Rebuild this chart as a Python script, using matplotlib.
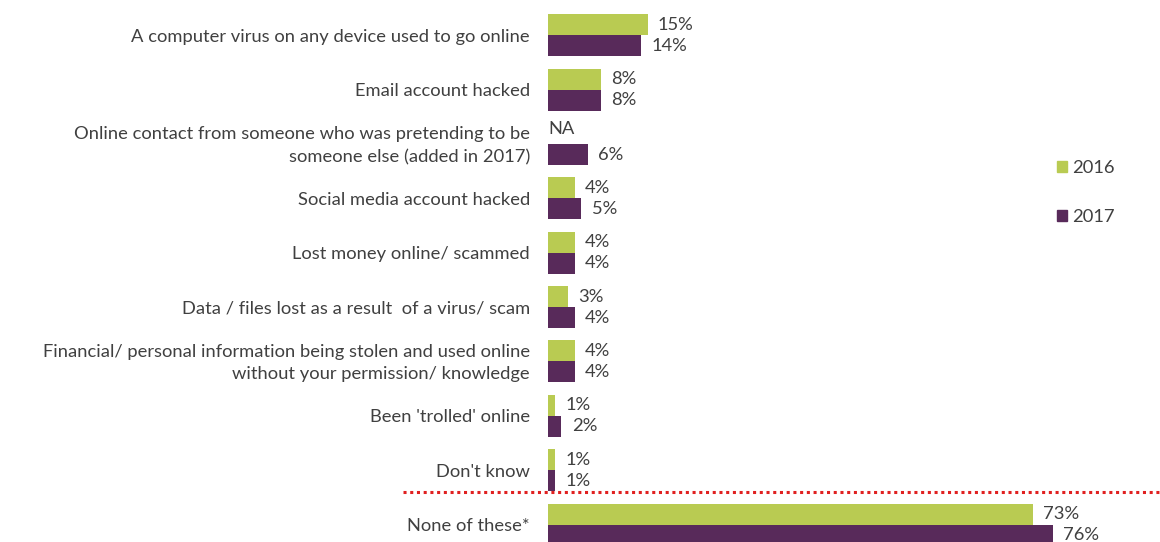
import matplotlib
matplotlib.use("Agg")
import matplotlib.pyplot as plt
from matplotlib.lines import Line2D
from matplotlib.patches import Patch

categories = [
    "A computer virus on any device used to go online",
    "Email account hacked",
    "Online contact from someone who was pretending to be\nsomeone else (added in 2017)",
    "Social media account hacked",
    "Lost money online/ scammed",
    "Data / files lost as a result  of a virus/ scam",
    "Financial/ personal information being stolen and used online\nwithout your permission/ knowledge",
    "Been 'trolled' online",
    "Don't know",
    "None of these*",
]
values_2016 = [15, 8, None, 4, 4, 3, 4, 1, 1, 73]
values_2017 = [14, 8, 6, 5, 4, 4, 4, 2, 1, 76]
series_names = ["2016", "2017"]

GREEN = "#B9CB52"
PURPLE = "#582A5A"
TEXT = "#404040"
RED = "#E02020"
FS = 13.2

plt.rcParams['font.family'] = ['Lato', 'DejaVu Sans']

W, H = 1160, 542
fig = plt.figure(figsize=(W / 100, H / 100), dpi=100)
left_px = 548
ax = fig.add_axes([left_px / W, 0, 1 - left_px / W, 1])
ax.set_xlim(0, (W - left_px) / 6.64)
ax.set_ylim(9.322, -0.653)
ax.axis("off")

bh = 0.3865
for i, (v16, v17) in enumerate(zip(values_2016, values_2017)):
    y16 = i - bh / 2
    y17 = i + bh / 2
    if v16 is not None:
        ax.barh(y16, v16, height=bh, color=GREEN, edgecolor="none")
        ax.annotate(f"{v16}%", xy=(v16, y16), xytext=(7.5, 0), textcoords="offset points",
                    va="center", ha="left", fontsize=FS, color=TEXT)
    else:
        ax.text(0, y16 - 0.08, "NA", va="center", ha="left", fontsize=FS, color=TEXT)
    ax.barh(y17, v17, height=bh, color=PURPLE, edgecolor="none")
    ax.annotate(f"{v17}%", xy=(v17, y17), xytext=(7.5, 0), textcoords="offset points",
                va="center", ha="left", fontsize=FS, color=TEXT)
    ax.annotate(categories[i], xy=(0, i), xytext=(-13, -1.2), textcoords="offset points",
                va="center", ha="right", fontsize=FS, color=TEXT, linespacing=1.5,
                annotation_clip=False)

# dotted separator
fig.add_artist(Line2D([403 / W, 1.0], [1 - 492 / H, 1 - 492 / H], color=RED,
                      linestyle=(0, (1, 1.2)), linewidth=2.2))

handles = [Patch(color=GREEN, label=series_names[0]), Patch(color=PURPLE, label=series_names[1])]
fig.legend(handles=handles, loc="upper left", bbox_to_anchor=(1057 / W, 1 - 160 / H),
           frameon=False, handlelength=0.55, handleheight=0.55, handletextpad=0.3,
           labelspacing=1.82, fontsize=FS, labelcolor=TEXT, borderaxespad=0, borderpad=0)

fig.savefig("out.png", dpi=100)
